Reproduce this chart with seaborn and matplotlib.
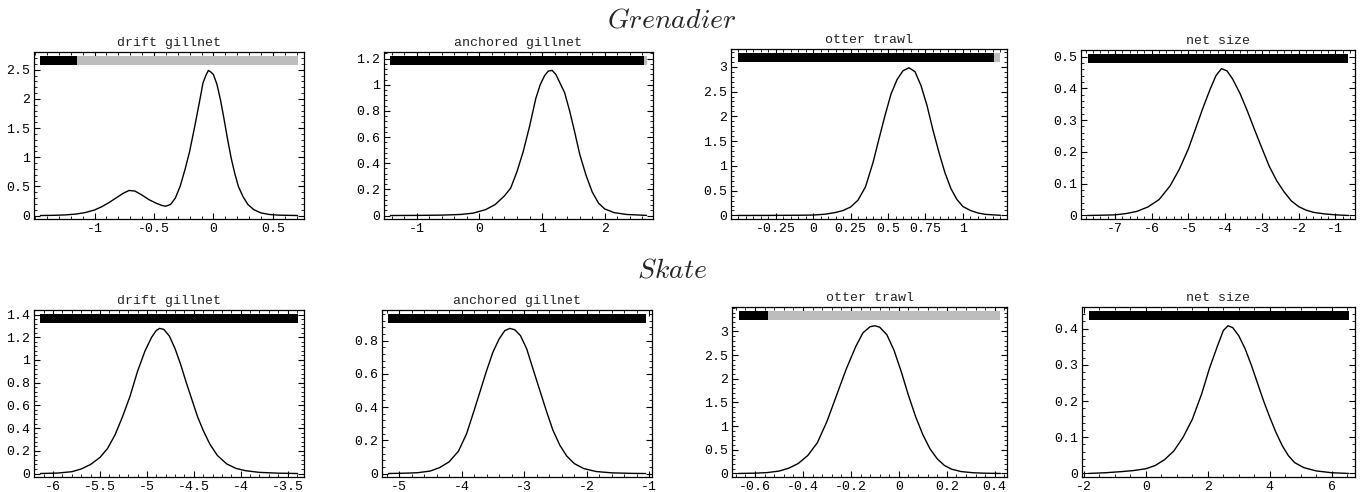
import numpy as np
import pandas as pd
import matplotlib
matplotlib.use("Agg")
import matplotlib.pyplot as plt
from matplotlib.ticker import FuncFormatter, AutoMinorLocator, FixedLocator
import seaborn as sns

# ---------------- data ----------------
species = ["Grenadier", "Skate"]
gear = ["drift gillnet", "anchored gillnet", "otter trawl", "net size"]

# Grenadier
g_drift_x = [-1.455, -1.35, -1.25, -1.155, -1.08, -1.0, -0.94, -0.88, -0.82, -0.76, -0.71, -0.66,
             -0.60, -0.54, -0.48, -0.43, -0.40, -0.36, -0.32, -0.28, -0.24, -0.20, -0.16, -0.12,
             -0.087, -0.06, -0.042, -0.02, 0.0, 0.03, 0.06, 0.09, 0.12, 0.15, 0.18, 0.21, 0.25,
             0.29, 0.34, 0.40, 0.47, 0.55, 0.708]
g_drift_y = [0.0, 0.003, 0.01, 0.025, 0.05, 0.095, 0.15, 0.22, 0.30, 0.38, 0.43, 0.42,
             0.35, 0.27, 0.21, 0.17, 0.16, 0.19, 0.30, 0.50, 0.78, 1.10, 1.50, 1.92,
             2.28, 2.42, 2.49, 2.46, 2.42, 2.25, 1.98, 1.65, 1.30, 0.98, 0.72, 0.50, 0.32,
             0.19, 0.10, 0.045, 0.018, 0.006, 0.0]
g_anch_x = [-1.418, -1.0, -0.6, -0.3, -0.1, 0.1, 0.25, 0.4, 0.5, 0.6, 0.7, 0.8, 0.9, 0.97, 1.04,
            1.1, 1.16, 1.22, 1.29, 1.36, 1.44, 1.52, 1.6, 1.7, 1.8, 1.9, 2.0, 2.15, 2.35, 2.667]
g_anch_y = [0.0, 0.001, 0.003, 0.008, 0.018, 0.045, 0.083, 0.15, 0.21, 0.335, 0.49, 0.68, 0.895,
            1.0, 1.07, 1.105, 1.11, 1.08, 1.01, 0.94, 0.80, 0.64, 0.47, 0.31, 0.18, 0.095, 0.05,
            0.022, 0.008, 0.001]
g_otter_x = [-0.504, -0.3, -0.1, 0.0, 0.08, 0.15, 0.2, 0.25, 0.3, 0.35, 0.40, 0.44, 0.48, 0.52,
             0.56, 0.60, 0.64, 0.68, 0.72, 0.76, 0.80, 0.84, 0.88, 0.92, 0.96, 1.00, 1.05, 1.10,
             1.15, 1.25]
g_otter_y = [0.0, 0.001, 0.004, 0.008, 0.025, 0.06, 0.10, 0.17, 0.31, 0.58, 1.07, 1.55, 2.02, 2.45,
             2.74, 2.92, 2.98, 2.90, 2.62, 2.22, 1.72, 1.27, 0.86, 0.54, 0.32, 0.18, 0.10, 0.05,
             0.022, 0.003]
g_net_x = [-7.748, -7.3, -7.0, -6.7, -6.4, -6.1, -5.8, -5.5, -5.25, -5.0, -4.8, -4.6, -4.4, -4.25,
           -4.1, -3.95, -3.8, -3.6, -3.4, -3.2, -3.0, -2.8, -2.6, -2.4, -2.2, -2.0, -1.8, -1.6,
           -1.3, -1.0, -0.642]
g_net_y = [0.0, 0.001, 0.002, 0.006, 0.013, 0.027, 0.05, 0.093, 0.145, 0.21, 0.275, 0.34, 0.40,
           0.44, 0.462, 0.455, 0.43, 0.385, 0.33, 0.27, 0.212, 0.155, 0.11, 0.075, 0.046, 0.028,
           0.017, 0.01, 0.005, 0.002, 0.0]

# Skate
s_drift_x = [-6.135, -5.95, -5.8, -5.7, -5.6, -5.5, -5.42, -5.34, -5.26, -5.18, -5.10, -5.02, -4.95,
             -4.90, -4.865, -4.82, -4.76, -4.70, -4.64, -4.58, -4.52, -4.46, -4.40, -4.33, -4.25,
             -4.15, -4.05, -3.95, -3.80, -3.6, -3.394]
s_drift_y = [0.0, 0.004, 0.016, 0.04, 0.08, 0.142, 0.22, 0.34, 0.50, 0.68, 0.90, 1.08, 1.20,
             1.26, 1.278, 1.27, 1.21, 1.10, 0.96, 0.80, 0.65, 0.50, 0.38, 0.26, 0.16,
             0.085, 0.045, 0.025, 0.01, 0.003, 0.0]
s_anch_x = [-5.17, -4.9, -4.7, -4.5, -4.35, -4.2, -4.05, -3.92, -3.8, -3.7, -3.6, -3.5, -3.4, -3.31,
            -3.23, -3.15, -3.06, -2.96, -2.86, -2.75, -2.64, -2.54, -2.43, -2.32, -2.2, -2.05,
            -1.85, -1.6, -1.3, -1.06]
s_anch_y = [0.0, 0.002, 0.005, 0.015, 0.036, 0.07, 0.135, 0.24, 0.38, 0.50, 0.62, 0.73, 0.81, 0.86,
            0.873, 0.865, 0.83, 0.75, 0.63, 0.50, 0.37, 0.26, 0.17, 0.105, 0.06, 0.03,
            0.012, 0.004, 0.001, 0.0]
s_otter_x = [-0.669, -0.60, -0.55, -0.50, -0.46, -0.42, -0.38, -0.34, -0.30, -0.26, -0.22, -0.18,
             -0.15, -0.12, -0.10, -0.08, -0.05, -0.02, 0.01, 0.04, 0.07, 0.10, 0.13, 0.16, 0.19,
             0.22, 0.26, 0.31, 0.36, 0.424]
s_otter_y = [0.0, 0.006, 0.018, 0.05, 0.11, 0.21, 0.38, 0.65, 1.10, 1.65, 2.20, 2.68,
             2.97, 3.10, 3.12, 3.09, 2.93, 2.60, 2.15, 1.65, 1.20, 0.82, 0.52, 0.31, 0.17,
             0.09, 0.04, 0.015, 0.005, 0.0]
s_net_x = [-1.854, -1.3, -0.8, -0.4, 0.0, 0.3, 0.6, 0.9, 1.2, 1.5, 1.8, 2.05, 2.3, 2.5, 2.65, 2.8,
           3.0, 3.2, 3.4, 3.6, 3.8, 4.0, 4.2, 4.4, 4.6, 4.8, 5.1, 5.5, 6.0, 6.54]
s_net_y = [0.0, 0.002, 0.005, 0.008, 0.013, 0.022, 0.038, 0.062, 0.10, 0.15, 0.22, 0.29, 0.35,
           0.395, 0.408, 0.403, 0.38, 0.345, 0.30, 0.25, 0.20, 0.155, 0.113, 0.077, 0.049, 0.03,
           0.016, 0.007, 0.002, 0.0]

# share of the top bar drawn in black (rest grey)
black_share = [0.143, 0.99, 0.975, 1.0,
               1.0, 1.0, 0.114, 1.0]

# tick labels
x_ticks = [[-1, -0.5, 0, 0.5], [-1, 0, 1, 2], [-0.25, 0, 0.25, 0.5, 0.75, 1], [-7, -6, -5, -4, -3, -2, -1],
           [-6, -5.5, -5, -4.5, -4, -3.5], [-5, -4, -3, -2, -1], [-0.6, -0.4, -0.2, 0, 0.2, 0.4], [-2, 0, 2, 4, 6]]
y_ticks = [[0, 0.5, 1, 1.5, 2, 2.5], [0, 0.2, 0.4, 0.6, 0.8, 1, 1.2], [0, 0.5, 1, 1.5, 2, 2.5, 3],
           [0, 0.1, 0.2, 0.3, 0.4, 0.5], [0, 0.2, 0.4, 0.6, 0.8, 1, 1.2, 1.4], [0, 0.2, 0.4, 0.6, 0.8],
           [0, 0.5, 1, 1.5, 2, 2.5, 3], [0, 0.1, 0.2, 0.3, 0.4]]

curves = [(g_drift_x, g_drift_y), (g_anch_x, g_anch_y), (g_otter_x, g_otter_y), (g_net_x, g_net_y),
          (s_drift_x, s_drift_y), (s_anch_x, s_anch_y), (s_otter_x, s_otter_y), (s_net_x, s_net_y)]

# ---------------- style ----------------
sns.set_theme(style="ticks")
plt.rcParams["font.family"] = ["Liberation Mono", "DejaVu Sans"]
plt.rcParams["axes.unicode_minus"] = False
plt.rcParams["mathtext.fontset"] = "cm"

W, H = 1364, 492
fig = plt.figure(figsize=(W / 100, H / 100), dpi=100)

# axes frames in pixels: (left, top, right, bottom)
frames = [(34, 52, 304, 219), (384, 52, 653, 219), (731, 49, 1007, 219), (1081, 50, 1355, 219),
          (34, 310, 304, 477), (382, 310, 652, 477), (732, 307, 1007, 477), (1082, 307, 1355, 477)]

fmt = FuncFormatter(lambda v, p: ("%g" % v) if abs(v) > 1e-12 else "0")

for i, ((xs, ys), fr) in enumerate(zip(curves, frames)):
    l, t, r, b = fr
    ax = fig.add_axes([l / W, 1 - b / H, (r - l) / W, (b - t) / H])
    df = pd.DataFrame({"x": xs, "y": ys})
    sns.lineplot(data=df, x="x", y="y", ax=ax, color="black", linewidth=1.0, sort=False, zorder=3)

    xmin, xmax = min(xs), max(xs)
    peak = max(ys)
    span = xmax - xmin
    bar_c, bar_h = 1.068 * peak, 0.06 * peak
    blen = black_share[i] * span
    ax.barh(bar_c, blen, left=xmin, height=bar_h, color="black", linewidth=0, zorder=2)
    if black_share[i] < 1:
        ax.barh(bar_c, span - blen, left=xmin + blen, height=bar_h, color="#bdbdbd", linewidth=0, zorder=2)

    ax.set_xlim(xmin - 0.025 * span, xmax + 0.025 * span)
    ax.set_ylim(-0.024 * peak, 1.127 * peak)
    ax.xaxis.set_major_locator(FixedLocator(x_ticks[i]))
    ax.yaxis.set_major_locator(FixedLocator(y_ticks[i]))
    ax.xaxis.set_major_formatter(fmt)
    ax.yaxis.set_major_formatter(fmt)
    xstep = x_ticks[i][1] - x_ticks[i][0]
    ax.xaxis.set_minor_locator(AutoMinorLocator(4 if abs(xstep - 2) < 1e-9 else 5))
    ax.yaxis.set_minor_locator(AutoMinorLocator(5))
    ax.tick_params(which="both", direction="in", top=True, right=True, colors="black",
                   labelsize=9.5, width=0.8, pad=3)
    ax.tick_params(which="major", length=4)
    ax.tick_params(which="minor", length=2, width=0.6)
    for s in ax.spines.values():
        s.set_linewidth(0.9)
        s.set_color("black")
    ax.set_xlabel("")
    ax.set_ylabel("")
    ax.set_title(gear[i % 4], fontsize=9.5, pad=4, color="#222222")

fig.text(672 / W, 1 - 27 / H, r"$\mathit{" + species[0] + "}$", ha="center", va="baseline", fontsize=20)
fig.text(672 / W, 1 - 277 / H, r"$\mathit{" + species[1] + "}$", ha="center", va="baseline", fontsize=20)

fig.savefig("out.png", dpi=100)
